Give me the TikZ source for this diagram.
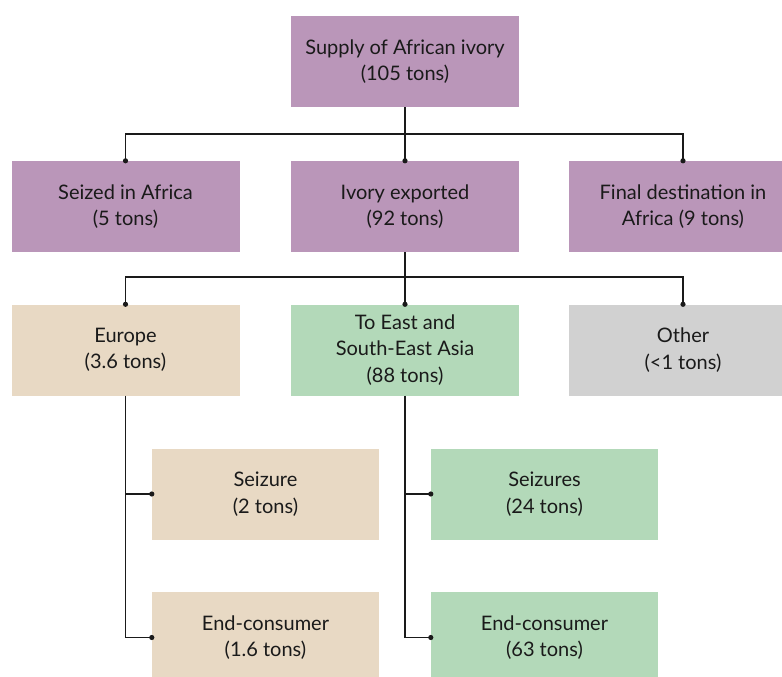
\documentclass[tikz,border=0pt]{standalone}
\usepackage{fontspec}
\setmainfont{Lato}
\definecolor{purp}{HTML}{BA96B9}
\definecolor{tan}{HTML}{E8D9C4}
\definecolor{grn}{HTML}{B3D9B9}
\definecolor{gry}{HTML}{D1D1D1}
\definecolor{ink}{HTML}{1A1A1A}
\begin{document}
\begin{tikzpicture}[x=1pt,y=1pt,
  box/.style={minimum width=228pt,minimum height=91pt,inner sep=0pt,align=center,
    text=ink,font=\fontsize{20}{26.5}\selectfont},
  sbox/.style={box,minimum width=227pt},
  link/.style={draw=ink,line width=1.3pt},
  dot/.style={fill=ink}]
\useasboundingbox (0,0) rectangle (782,-677);
\node[box,fill=purp] (top) at (405,-61.5) {Supply of African ivory\\(105 tons)};
\node[box,fill=purp] (seized) at (125.5,-206.5) {Seized in Africa\\(5 tons)};
\node[box,fill=purp] (export) at (405,-206.5) {Ivory exported\\(92 tons)};
\node[box,fill=purp] (final) at (683,-206.5) {Final destination in\\Africa (9 tons)};
\node[box,fill=tan] (europe) at (125.5,-350) {Europe\\(3.6 tons)};
\node[box,fill=grn] (asia) at (405,-350) {To East and\\South-East Asia\\(88 tons)};
\node[box,fill=gry] (other) at (683,-350) {Other\\(<1 tons)};
\node[sbox,fill=tan] (eseiz) at (265.5,-494) {Seizure\\(2 tons)};
\node[sbox,fill=tan] (eend) at (265.5,-637.5) {End-consumer\\(1.6 tons)};
\node[sbox,fill=grn] (aseiz) at (544.5,-494) {Seizures\\(24 tons)};
\node[sbox,fill=grn] (aend) at (544.5,-637.5) {End-consumer\\(63 tons)};
% level 1
\coordinate (j1) at (405,-134);
\draw[link] (top.south) -- (j1);
\draw[link] (j1) -| (seized.north);
\draw[link] (j1) -| (final.north);
\draw[link] (j1) -- (export.north);
% level 2
\coordinate (j2) at (405,-277);
\draw[link] (export.south) -- (j2);
\draw[link] (j2) -| (europe.north);
\draw[link] (j2) -| (other.north);
\draw[link] (j2) -- (asia.north);
% level 3
\draw[link] (europe.south) |- (eend.west);
\draw[link] (europe.south |- eseiz.west) -- (eseiz.west);
\draw[link] (asia.south) |- (aend.west);
\draw[link] (asia.south |- aseiz.west) -- (aseiz.west);
\foreach \n in {seized.north,export.north,final.north,europe.north,asia.north,other.north,eseiz.west,eend.west,aseiz.west,aend.west}
  \fill[dot] (\n) circle (2.6pt);
\end{tikzpicture}
\end{document}
